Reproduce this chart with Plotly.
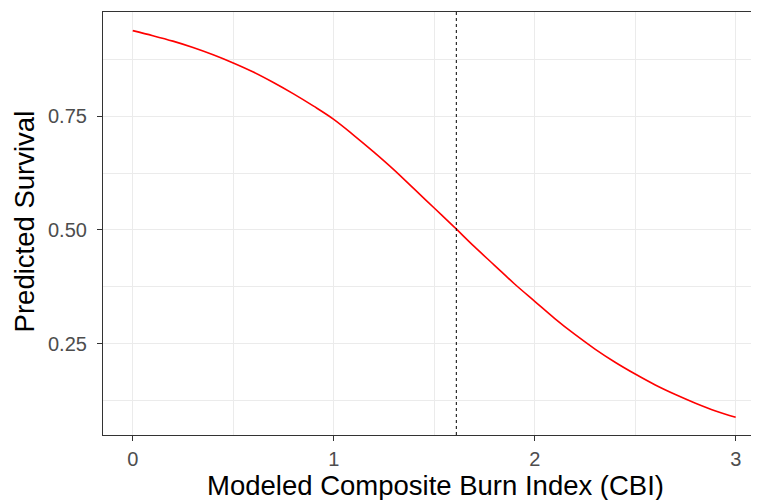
import plotly.graph_objects as go

# Modeled Composite Burn Index (CBI)
cbi = [0.0, 0.1, 0.2, 0.3, 0.4, 0.5, 0.6, 0.7, 0.8, 0.9,
       1.0, 1.1, 1.2, 1.3, 1.4, 1.5, 1.6, 1.7, 1.8, 1.9,
       2.0, 2.1, 2.2, 2.3, 2.4, 2.5, 2.6, 2.7, 2.8, 2.9, 3.0]
# Predicted survival
survival = [0.938, 0.927, 0.915, 0.901, 0.885, 0.867, 0.847, 0.824, 0.799, 0.772,
            0.743, 0.708, 0.671, 0.632, 0.590, 0.548, 0.506, 0.463, 0.422, 0.381,
            0.343, 0.305, 0.270, 0.238, 0.209, 0.183, 0.159, 0.138, 0.119, 0.102, 0.088]
threshold_cbi = 1.61

x_ticks = [0, 1, 2, 3]
x_tick_labels = ["0", "1", "2", "3"]
y_ticks = [0.25, 0.50, 0.75]
y_tick_labels = ["0.25", "0.50", "0.75"]
x_title = "Modeled Composite Burn Index (CBI)"
y_title = "Predicted Survival"

FONT = "Liberation Sans, Arial, sans-serif"

fig = go.Figure()
fig.add_trace(go.Scatter(x=cbi, y=survival, mode="lines", line_shape="spline",
                         line=dict(color="#FF0000", width=1.6), showlegend=False))
fig.add_shape(type="line", x0=threshold_cbi, x1=threshold_cbi, y0=0, y1=1,
              xref="x", yref="paper", line=dict(color="black", width=1, dash="3px,3px"))

fig.update_layout(
    width=751, height=492,
    margin=dict(l=95, r=0, t=4, b=65),
    paper_bgcolor="white", plot_bgcolor="white",
    font=dict(family=FONT),
)
fig.add_annotation(text=x_title, xref="paper", yref="paper", x=0.5076, y=0, yshift=-50,
                   xanchor="center", yanchor="middle", showarrow=False,
                   font=dict(size=27.5, color="black", family=FONT))
fig.add_annotation(text=y_title, xref="paper", yref="paper", x=0, xshift=-79, y=0.505,
                   xanchor="center", yanchor="middle", showarrow=False, textangle=-90,
                   font=dict(size=27.5, color="black", family=FONT))
fig.update_xaxes(
    range=[-0.148, 3.116], tickvals=x_ticks, ticktext=x_tick_labels,
    showgrid=True, gridcolor="#EBEBEB", gridwidth=1.3,
    minor=dict(dtick=0.5, tick0=0, showgrid=True, gridcolor="#EBEBEB", gridwidth=0.7),
    showline=True, linecolor="#333333", linewidth=1.2, mirror=True,
    ticks="outside", ticklen=5, tickcolor="#333333", tickwidth=1.2,
    tickfont=dict(size=20, color="#4D4D4D", family=FONT), ticklabelstandoff=1,
    zeroline=False, automargin=False,
)
fig.update_yaxes(
    range=[0.049, 0.979], tickvals=y_ticks, ticktext=y_tick_labels,
    showgrid=True, gridcolor="#EBEBEB", gridwidth=1.3,
    minor=dict(dtick=0.25, tick0=0.125, showgrid=True, gridcolor="#EBEBEB", gridwidth=0.7),
    showline=True, linecolor="#333333", linewidth=1.2, mirror=False,
    ticks="outside", ticklen=5, tickcolor="#333333", tickwidth=1.2,
    tickfont=dict(size=20, color="#4D4D4D", family=FONT), ticklabelstandoff=6,
    zeroline=False, automargin=False,
)

fig.write_html("out.html")
